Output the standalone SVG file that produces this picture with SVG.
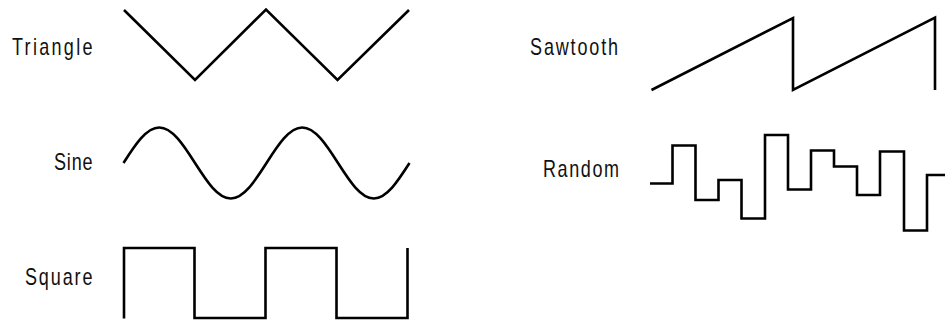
<svg xmlns="http://www.w3.org/2000/svg" width="945" height="322" viewBox="0 0 945 322">
<style>
.lbl{font-family:"Liberation Sans",Arial,sans-serif;font-size:24px;fill:#111;}
.wave{fill:none;stroke:#000;stroke-width:2.6;stroke-linejoin:miter;stroke-linecap:butt;}
</style>
<rect width="945" height="322" fill="#fff"/>
<g id="triangle">
<text class="lbl" transform="scale(0.75,1)" x="16" y="55" textLength="107.3" lengthAdjust="spacing">Triangle</text>
<path class="wave" d="M124,10 L195,80 L266,9.5 L337.5,80 L409,10"/>
</g>
<g id="sine">
<text class="lbl" transform="scale(0.75,1)" x="72" y="170" textLength="51.3" lengthAdjust="spacing">Sine</text>
<path class="wave" d="M123.5,163 C135.16,144.81 146.33,127.5 159.25,127.5 C172.17,127.5 183.34,144.81 195,163 C206.66,181.19 217.83,198.5 230.75,198.5 C243.67,198.5 254.84,181.19 266.5,163 C278.16,144.81 289.33,127.5 302.25,127.5 C315.17,127.5 326.34,144.81 338,163 C349.66,181.19 360.83,198.5 373.75,198.5 C386.67,198.5 397.84,181.19 409.5,163"/>
</g>
<g id="square">
<text class="lbl" transform="scale(0.75,1)" x="33.3" y="285" textLength="90" lengthAdjust="spacing">Square</text>
<path class="wave" d="M124,318.5 V248 H194.5 V318 H265.5 V248 H336.5 V318 H407.5 V248"/>
</g>
<g id="sawtooth">
<text class="lbl" transform="scale(0.75,1)" x="706.7" y="55" textLength="117.3" lengthAdjust="spacing">Sawtooth</text>
<path class="wave" d="M651.5,90 L793,18 V90 L935,17.5 V90"/>
</g>
<g id="random">
<text class="lbl" transform="scale(0.75,1)" x="724" y="177" textLength="101.3" lengthAdjust="spacing">Random</text>
<path class="wave" d="M650,183.5 H672.5 V145.5 H695.5 V200 H718.5 V180 H741.5 V218.5 H765 V135 H788 V189.5 H811 V150.5 H834 V166.5 H857 V195 H880 V151.5 H904 V230.5 H927 V175 H945"/>
</g>
<g id="connectors"></g>
</svg>
